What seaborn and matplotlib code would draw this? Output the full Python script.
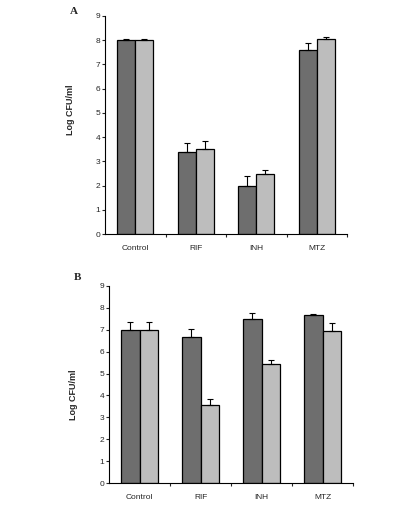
import numpy as np
import pandas as pd
import seaborn as sns
import matplotlib.pyplot as plt
from matplotlib.ticker import FixedLocator

drugs = ['Control', 'RIF', 'INH', 'MTZ']
series = ['s1', 's2']

# panel A
a_dark = [8.0, 3.4, 2.0, 7.6]
a_light = [8.0, 3.5, 2.47, 8.05]
a_dark_err = [0.05, 0.35, 0.4, 0.3]
a_light_err = [0.05, 0.35, 0.17, 0.08]

# panel B
b_dark = [7.0, 6.67, 7.47, 7.68]
b_light = [7.0, 3.57, 5.43, 6.95]
b_dark_err = [0.37, 0.38, 0.3, 0.02]
b_light_err = [0.37, 0.28, 0.2, 0.35]

colors = ['#6e6e6e', '#bdbdbd']

sns.set_style('white')
plt.rcParams['font.family'] = ['Liberation Sans', 'DejaVu Sans']

fig = plt.figure(figsize=(4.2, 5.08), dpi=100)
axA = fig.add_axes([105/420, 1-234/508, 242/420, 218/508])
axB = fig.add_axes([109/420, 1-483/508, 244/420, 197/508])


def panel(ax, dark, light, dark_err, light_err, letter, label_y, letter_y):
    df = pd.DataFrame({
        'drug': drugs * 2,
        'val': dark + light,
        'grp': ['s1'] * 4 + ['s2'] * 4,
    })
    sns.barplot(data=df, x='drug', y='val', hue='grp', palette=colors,
                width=0.6, edgecolor='black', linewidth=0.9,
                saturation=1, legend=False, ax=ax, errorbar=None)
    errs = dark_err + light_err
    bars = [p for p in ax.patches if p.get_height() > 0]
    for p, e in zip(bars, errs):
        x = p.get_x() + p.get_width() / 2
        h = p.get_height()
        ax.errorbar(x, h, yerr=[[0], [e]], fmt='none', ecolor='black',
                    elinewidth=0.8, capsize=2.5, capthick=0.8)
    ax.set_ylim(0, 9)
    ax.set_xlim(-0.5, 3.5)
    ax.set_yticks(range(10))
    ax.set_xlabel('')
    ax.set_ylabel('Log CFU/ml', fontsize=6.5, fontweight='bold')
    ax.yaxis.set_label_coords(-0.125, label_y)
    ax.tick_params(axis='y', labelsize=6, length=2.5, width=0.8, direction='out', left=True, pad=1)
    ax.tick_params(axis='x', which='major', labelsize=6, length=0, pad=8)
    ax.xaxis.set_minor_locator(FixedLocator([0.5, 1.5, 2.5, 3.5]))
    ax.tick_params(axis='x', which='minor', length=2.5, width=0.8, direction='out', bottom=True)
    sns.despine(ax=ax)
    for s in ['left', 'bottom']:
        ax.spines[s].set_linewidth(0.8)
        ax.spines[s].set_color('black')
    ax.text(-0.13, letter_y, letter, transform=ax.transAxes, fontsize=8,
            fontweight='bold', family='Liberation Serif', ha='center', va='center')


panel(axA, a_dark, a_light, a_dark_err, a_light_err, 'A', 0.57, 1.02)
panel(axB, b_dark, b_light, b_dark_err, b_light_err, 'B', 0.45, 1.045)

fig.savefig('out.png', dpi=100)
